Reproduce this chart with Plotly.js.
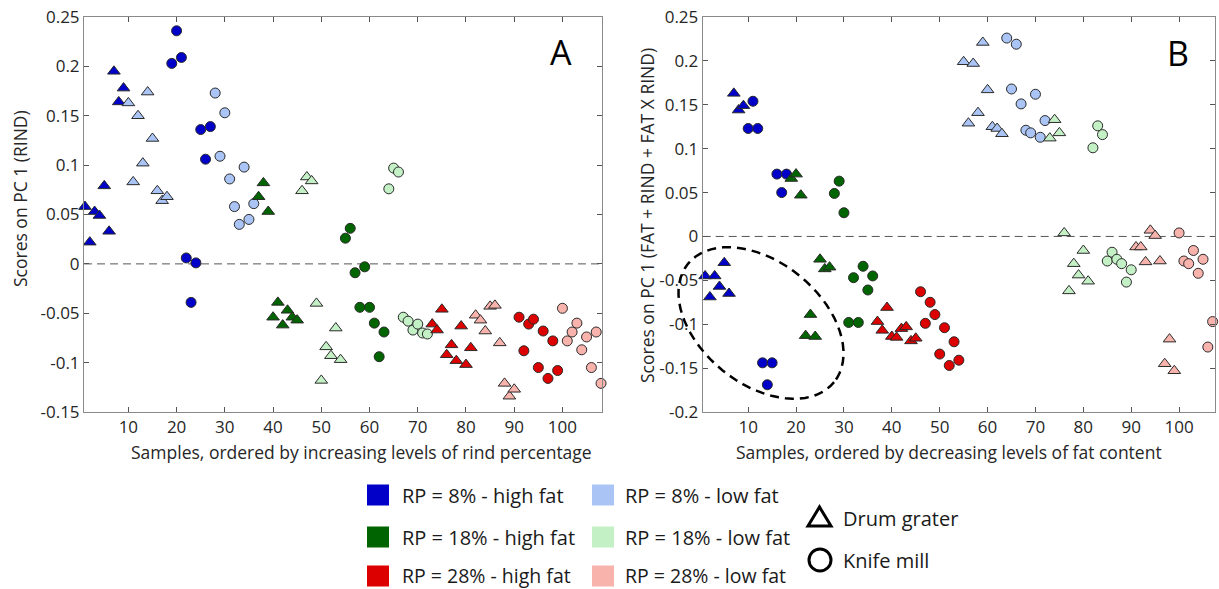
<!DOCTYPE html>
<html>
<head>
<meta charset="utf-8">
<script src="https://cdn.plot.ly/plotly-3.0.1.min.js"></script>
<style>html,body{margin:0;padding:0;background:#fff;}#chart{width:1219px;height:589px;}</style>
</head>
<body>
<div id="chart"></div>
<script>
// ---------- DATA: Panel A (ordered by increasing rind percentage) ----------
const aX_rp8HighTri  = [1,2,3,4,5,6,7,8,9];
const aY_rp8HighTri  = [0.058,0.022,0.053,0.049,0.079,0.033,0.195,0.164,0.178];
const aX_rp8LowTri   = [10,11,12,13,14,15,16,17,18];
const aY_rp8LowTri   = [0.163,0.083,0.150,0.102,0.174,0.127,0.074,0.064,0.068];
const aX_rp8HighCirc = [19,20,21,22,23,24,25,26,27];
const aY_rp8HighCirc = [0.203,0.236,0.209,0.006,-0.039,0.001,0.136,0.106,0.139];
const aX_rp8LowCirc  = [28,29,30,31,32,33,34,35,36];
const aY_rp8LowCirc  = [0.173,0.109,0.153,0.086,0.058,0.040,0.098,0.045,0.061];
const aX_rp18HighTri = [37,38,39,40,41,42,43,44,45];
const aY_rp18HighTri = [0.068,0.082,0.053,-0.054,-0.039,-0.062,-0.047,-0.054,-0.057];
const aX_rp18LowTri  = [46,47,48,49,50,51,52,53,54];
const aY_rp18LowTri  = [0.074,0.088,0.084,-0.040,-0.118,-0.084,-0.093,-0.065,-0.097];
const aX_rp18HighCirc= [55,56,57,58,59,60,61,62,63];
const aY_rp18HighCirc= [0.026,0.036,-0.009,-0.044,-0.003,-0.044,-0.060,-0.094,-0.069];
const aX_rp18LowCirc = [64,65,66,67,68,69,70,71,72];
const aY_rp18LowCirc = [0.076,0.097,0.093,-0.054,-0.058,-0.067,-0.061,-0.070,-0.071];
const aX_rp28HighTri = [73,74,75,76,77,78,79,80,81];
const aY_rp28HighTri = [-0.061,-0.067,-0.046,-0.092,-0.082,-0.098,-0.063,-0.102,-0.085];
const aX_rp28LowTri  = [82,83,84,85,86,87,88,89,90];
const aY_rp28LowTri  = [-0.052,-0.057,-0.068,-0.043,-0.042,-0.080,-0.121,-0.134,-0.127];
const aX_rp28HighCirc= [91,92,93,94,95,96,97,98,99];
const aY_rp28HighCirc= [-0.054,-0.088,-0.061,-0.056,-0.105,-0.068,-0.116,-0.078,-0.108];
const aX_rp28LowCirc = [100,101,102,103,104,105,106,107,108];
const aY_rp28LowCirc = [-0.045,-0.078,-0.069,-0.060,-0.087,-0.074,-0.105,-0.069,-0.121];

// ---------- DATA: Panel B (ordered by decreasing fat content) ----------
const bX_rp8HighTri  = [1,2,3,4,5,6,7,8,9];
const bY_rp8HighTri  = [-0.045,-0.069,-0.045,-0.057,-0.030,-0.065,0.163,0.144,0.149];
const bX_rp8HighCirc = [10,11,12,13,14,15,16,17,18];
const bY_rp8HighCirc = [0.123,0.154,0.123,-0.144,-0.169,-0.144,0.071,0.050,0.071];
const bX_rp18HighTri = [19,20,21,22,23,24,25,26,27];
const bY_rp18HighTri = [0.066,0.071,0.047,-0.113,-0.089,-0.114,-0.026,-0.037,-0.035];
const bX_rp18HighCirc= [28,29,30,31,32,33,34,35,36];
const bY_rp18HighCirc= [0.049,0.063,0.027,-0.098,-0.047,-0.098,-0.034,-0.061,-0.045];
const bX_rp28HighTri = [37,38,39,40,41,42,43,44,45];
const bY_rp28HighTri = [-0.097,-0.107,-0.081,-0.114,-0.115,-0.105,-0.103,-0.119,-0.116];
const bX_rp28HighCirc= [46,47,48,49,50,51,52,53,54];
const bY_rp28HighCirc= [-0.063,-0.099,-0.075,-0.089,-0.134,-0.104,-0.147,-0.120,-0.141];
const bX_rp8LowTri   = [55,56,57,58,59,60,61,62,63];
const bY_rp8LowTri   = [0.199,0.129,0.197,0.141,0.221,0.167,0.125,0.123,0.117];
const bX_rp8LowCirc  = [64,65,66,67,68,69,70,71,72];
const bY_rp8LowCirc  = [0.226,0.168,0.219,0.151,0.121,0.118,0.162,0.113,0.132];
const bX_rp18LowTri  = [73,74,75,76,77,78,79,80,81];
const bY_rp18LowTri  = [0.112,0.133,0.118,0.004,-0.062,-0.031,-0.044,-0.016,-0.051];
const bX_rp18LowCirc = [82,83,84,85,86,87,88,89,90];
const bY_rp18LowCirc = [0.101,0.126,0.116,-0.028,-0.018,-0.026,-0.031,-0.052,-0.038];
const bX_rp28LowTri  = [91,92,93,94,95,96,97,98,99];
const bY_rp28LowTri  = [-0.012,-0.012,-0.029,0.007,0.001,-0.028,-0.145,-0.117,-0.153];
const bX_rp28LowCirc = [100,101,102,103,104,105,106,107,108];
const bY_rp28LowCirc = [0.004,-0.028,-0.031,-0.016,-0.042,-0.026,-0.126,-0.097,-0.134];

// ---------- Tick labels ----------
const xTickVals = [10,20,30,40,50,60,70,80,90,100];
const xTickText = ['10','20','30','40','50','60','70','80','90','100'];
const aYTickVals = [-0.15,-0.1,-0.05,0,0.05,0.1,0.15,0.2,0.25];
const aYTickText = ['-0.15','-0.1','-0.05','0','0.05','0.1','0.15','0.2','0.25'];
const bYTickVals = [-0.2,-0.15,-0.1,-0.05,0,0.05,0.1,0.15,0.2,0.25];
const bYTickText = ['-0.2','-0.15','-0.1','-0.05','0','0.05','0.1','0.15','0.2','0.25'];

// ---------- Legend ----------
const legendLabels = ['RP = 8% - high fat','RP = 8% - low fat','RP = 18% - high fat','RP = 18% - low fat','RP = 28% - high fat','RP = 28% - low fat'];
const methodLabels = ['Drum grater','Knife mill'];

// ---------- Styling ----------
const W = 1219, H = 589;
const COL = {
  rp8High: '#0000c8', rp8Low: '#a9c4f5',
  rp18High: '#006400', rp18Low: '#c4f0c6',
  rp28High: '#dc0000', rp28Low: '#f9b3ad'
};
const legendColors = [COL.rp8High, COL.rp8Low, COL.rp18High, COL.rp18Low, COL.rp28High, COL.rp28Low];
const FONT = 'Open Sans, sans-serif';

function tr(x, y, color, sym, xa, ya) {
  return {
    type: 'scatter', mode: 'markers', x: x, y: y, xaxis: xa, yaxis: ya,
    cliponaxis: false, showlegend: false, hoverinfo: 'skip',
    marker: { color: color, symbol: sym, size: sym === 'circle' ? 10 : 11,
              line: { color: '#2a2a2a', width: 1 } }
  };
}

const data = [
  tr(aX_rp8HighTri, aY_rp8HighTri, COL.rp8High, 'triangle-up', 'x', 'y'),
  tr(aX_rp8LowTri, aY_rp8LowTri, COL.rp8Low, 'triangle-up', 'x', 'y'),
  tr(aX_rp8HighCirc, aY_rp8HighCirc, COL.rp8High, 'circle', 'x', 'y'),
  tr(aX_rp8LowCirc, aY_rp8LowCirc, COL.rp8Low, 'circle', 'x', 'y'),
  tr(aX_rp18HighTri, aY_rp18HighTri, COL.rp18High, 'triangle-up', 'x', 'y'),
  tr(aX_rp18LowTri, aY_rp18LowTri, COL.rp18Low, 'triangle-up', 'x', 'y'),
  tr(aX_rp18HighCirc, aY_rp18HighCirc, COL.rp18High, 'circle', 'x', 'y'),
  tr(aX_rp18LowCirc, aY_rp18LowCirc, COL.rp18Low, 'circle', 'x', 'y'),
  tr(aX_rp28HighTri, aY_rp28HighTri, COL.rp28High, 'triangle-up', 'x', 'y'),
  tr(aX_rp28LowTri, aY_rp28LowTri, COL.rp28Low, 'triangle-up', 'x', 'y'),
  tr(aX_rp28HighCirc, aY_rp28HighCirc, COL.rp28High, 'circle', 'x', 'y'),
  tr(aX_rp28LowCirc, aY_rp28LowCirc, COL.rp28Low, 'circle', 'x', 'y'),

  tr(bX_rp8HighTri, bY_rp8HighTri, COL.rp8High, 'triangle-up', 'x2', 'y2'),
  tr(bX_rp8HighCirc, bY_rp8HighCirc, COL.rp8High, 'circle', 'x2', 'y2'),
  tr(bX_rp18HighTri, bY_rp18HighTri, COL.rp18High, 'triangle-up', 'x2', 'y2'),
  tr(bX_rp18HighCirc, bY_rp18HighCirc, COL.rp18High, 'circle', 'x2', 'y2'),
  tr(bX_rp28HighTri, bY_rp28HighTri, COL.rp28High, 'triangle-up', 'x2', 'y2'),
  tr(bX_rp28HighCirc, bY_rp28HighCirc, COL.rp28High, 'circle', 'x2', 'y2'),
  tr(bX_rp8LowTri, bY_rp8LowTri, COL.rp8Low, 'triangle-up', 'x2', 'y2'),
  tr(bX_rp8LowCirc, bY_rp8LowCirc, COL.rp8Low, 'circle', 'x2', 'y2'),
  tr(bX_rp18LowTri, bY_rp18LowTri, COL.rp18Low, 'triangle-up', 'x2', 'y2'),
  tr(bX_rp18LowCirc, bY_rp18LowCirc, COL.rp18Low, 'circle', 'x2', 'y2'),
  tr(bX_rp28LowTri, bY_rp28LowTri, COL.rp28Low, 'triangle-up', 'x2', 'y2'),
  tr(bX_rp28LowCirc, bY_rp28LowCirc, COL.rp28Low, 'circle', 'x2', 'y2')
];

const px = v => v / W;
const py = v => 1 - v / H;

const axisCommon = {
  showgrid: false, zeroline: false, showline: true, linecolor: '#8a8a8a', linewidth: 1,
  mirror: 'ticks', ticks: 'inside', ticklen: 5, tickcolor: '#555', tickwidth: 1,
  tickfont: { family: FONT, size: 17, color: '#262626' }, fixedrange: true
};

const yDom = [py(412), py(17)];

const layout = {
  width: W, height: H, margin: { l: 0, r: 0, t: 0, b: 0 },
  paper_bgcolor: '#fff', plot_bgcolor: '#fff', showlegend: false,
  font: { family: FONT, color: '#262626' },
  xaxis: Object.assign({}, axisCommon, { domain: [px(84), px(602)], range: [0.8, 108.2],
    tickmode: 'array', tickvals: xTickVals, ticktext: xTickText, anchor: 'y' }),
  yaxis: Object.assign({}, axisCommon, { domain: yDom, range: [-0.15, 0.25],
    tickmode: 'array', tickvals: aYTickVals, ticktext: aYTickText, anchor: 'x' }),
  xaxis2: Object.assign({}, axisCommon, { domain: [px(702.7), px(1215)], range: [0.5, 107.5],
    tickmode: 'array', tickvals: xTickVals, ticktext: xTickText, anchor: 'y2' }),
  yaxis2: Object.assign({}, axisCommon, { domain: yDom, range: [-0.2, 0.25],
    tickmode: 'array', tickvals: bYTickVals, ticktext: bYTickText, anchor: 'x2' }),
  shapes: [],
  annotations: []
};

// zero dashed lines
layout.shapes.push({ type: 'line', xref: 'x domain', yref: 'y', x0: 0, x1: 1, y0: 0, y1: 0,
  line: { color: '#555', width: 1, dash: '8px,5px' }, layer: 'below' });
layout.shapes.push({ type: 'line', xref: 'x2 domain', yref: 'y2', x0: 0, x1: 1, y0: 0, y1: 0,
  line: { color: '#555', width: 1, dash: '8px,5px' }, layer: 'below' });

// dashed ellipse in panel B (pixel geometry -> paper)
(function () {
  const cx = 761, cy = 323, a = 94, b = 61, th = 39 * Math.PI / 180;
  let d = '';
  for (let i = 0; i <= 72; i++) {
    const t = i / 72 * 2 * Math.PI;
    const X = cx + a * Math.cos(t) * Math.cos(th) - b * Math.sin(t) * Math.sin(th);
    const Y = cy + a * Math.cos(t) * Math.sin(th) + b * Math.sin(t) * Math.cos(th);
    d += (i === 0 ? 'M' : 'L') + px(X).toFixed(5) + ',' + py(Y).toFixed(5);
  }
  d += 'Z';
  layout.shapes.push({ type: 'path', xref: 'paper', yref: 'paper', path: d,
    line: { color: '#000', width: 2.5, dash: '9px,6px' } });
})();

// axis titles
const TITLE_FONT = { family: FONT, size: 17.5, color: '#262626' };
layout.annotations.push({ xref: 'paper', yref: 'paper', x: px(361), y: py(452), text: 'Samples, ordered by increasing levels of rind percentage',
  showarrow: false, font: TITLE_FONT, xanchor: 'center', yanchor: 'middle' });
layout.annotations.push({ xref: 'paper', yref: 'paper', x: px(949), y: py(452), text: 'Samples, ordered by decreasing levels of fat content',
  showarrow: false, font: TITLE_FONT, xanchor: 'center', yanchor: 'middle' });
layout.annotations.push({ xref: 'paper', yref: 'paper', x: px(20), y: py(199), text: 'Scores on PC 1 (RIND)', textangle: -90,
  showarrow: false, font: TITLE_FONT, xanchor: 'center', yanchor: 'middle' });
layout.annotations.push({ xref: 'paper', yref: 'paper', x: px(647), y: py(216), text: 'Scores on PC 1 (FAT + RIND + FAT X RIND)', textangle: -90,
  showarrow: false, font: TITLE_FONT, xanchor: 'center', yanchor: 'middle' });

// panel letters
layout.annotations.push({ xref: 'paper', yref: 'paper', x: px(561), y: py(52), text: 'A',
  showarrow: false, font: { family: FONT, size: 34, color: '#000' }, xanchor: 'center', yanchor: 'middle' });
layout.annotations.push({ xref: 'paper', yref: 'paper', x: px(1178), y: py(53), text: 'B',
  showarrow: false, font: { family: FONT, size: 34, color: '#000' }, xanchor: 'center', yanchor: 'middle' });

// colour legend
const rowsY = [495, 537, 576];
const colSqX = [367, 592];
const colTxtX = [400, 623];
for (let i = 0; i < legendLabels.length; i++) {
  const r = Math.floor(i / 2), c = i % 2;
  const yc = rowsY[r];
  layout.shapes.push({ type: 'rect', xref: 'paper', yref: 'paper',
    x0: px(colSqX[c]), x1: px(colSqX[c] + 22), y0: py(yc - 10.5), y1: py(yc + 10.5),
    fillcolor: legendColors[i], line: { width: 0 } });
  layout.annotations.push({ xref: 'paper', yref: 'paper', x: px(colTxtX[c]), y: py(r === 2 ? yc - 1 : yc), text: legendLabels[i],
    showarrow: false, font: { family: FONT, size: r === 2 ? 19.5 : 20, color: '#1a1a1a' }, xanchor: 'left', yanchor: 'middle' });
}
// method legend
layout.shapes.push({ type: 'path', xref: 'paper', yref: 'paper',
  path: 'M' + px(808) + ',' + py(526) + 'L' + px(819.5) + ',' + py(507) + 'L' + px(831) + ',' + py(526) + 'Z',
  line: { color: '#000', width: 3 }, fillcolor: 'rgba(0,0,0,0)' });
layout.shapes.push({ type: 'circle', xref: 'paper', yref: 'paper',
  x0: px(809), x1: px(831), y0: py(571), y1: py(549),
  line: { color: '#000', width: 3 }, fillcolor: 'rgba(0,0,0,0)' });
layout.annotations.push({ xref: 'paper', yref: 'paper', x: px(841), y: py(518), text: methodLabels[0],
  showarrow: false, font: { family: FONT, size: 20, color: '#1a1a1a' }, xanchor: 'left', yanchor: 'middle' });
layout.annotations.push({ xref: 'paper', yref: 'paper', x: px(841), y: py(560), text: methodLabels[1],
  showarrow: false, font: { family: FONT, size: 20, color: '#1a1a1a' }, xanchor: 'left', yanchor: 'middle' });

Plotly.newPlot('chart', data, layout, { displayModeBar: false, staticPlot: true });
</script>
</body>
</html>
